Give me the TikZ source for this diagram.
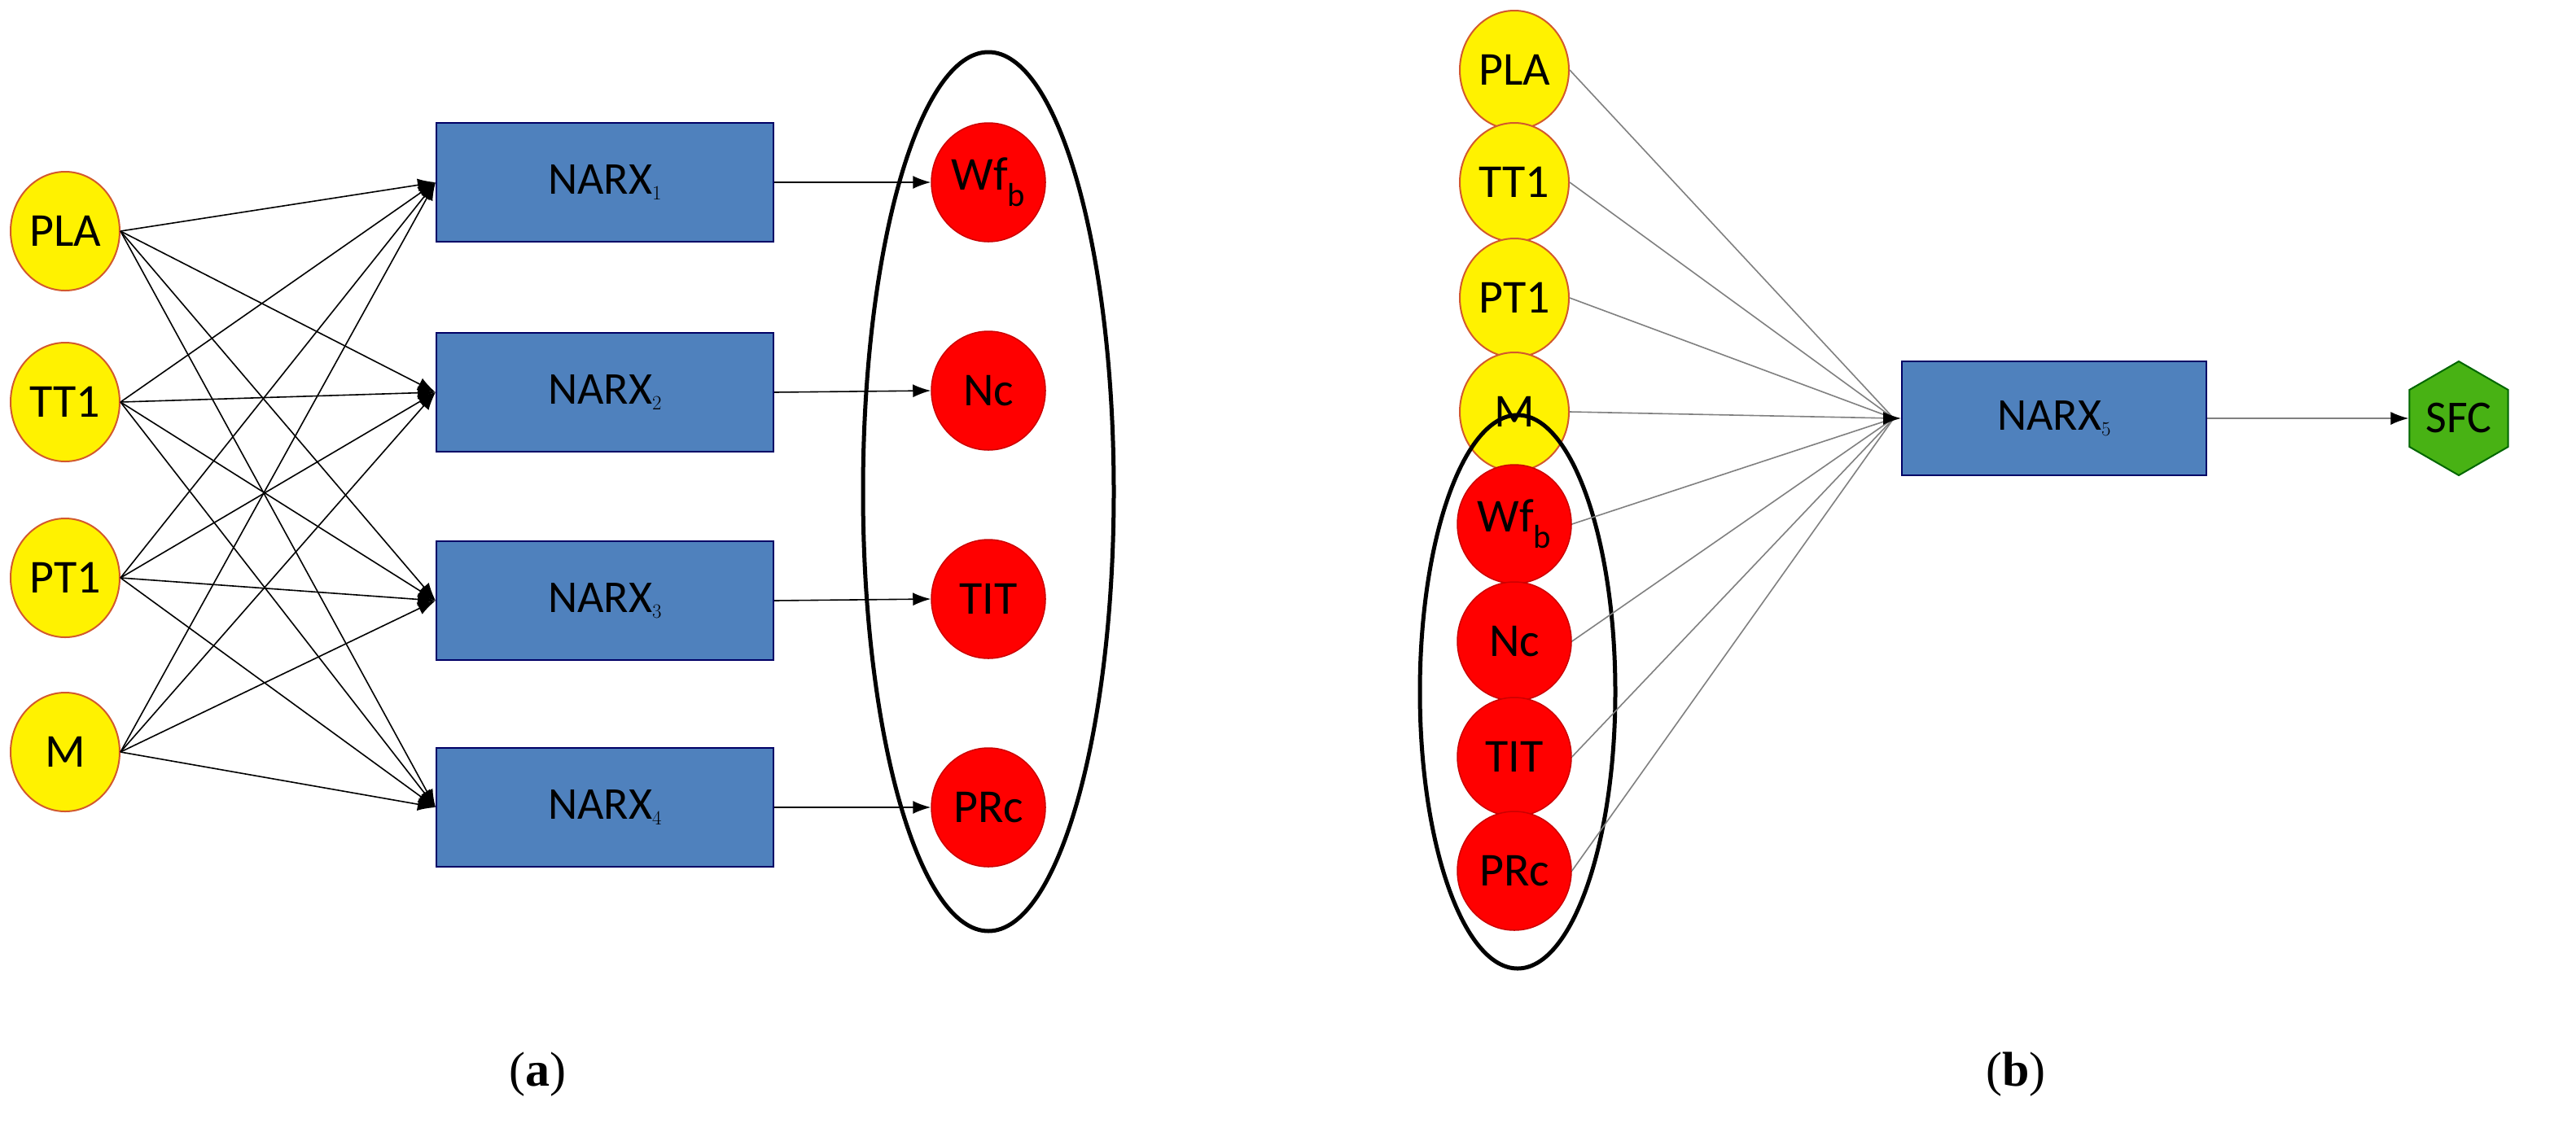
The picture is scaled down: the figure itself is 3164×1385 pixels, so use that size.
\documentclass[tikz,border=0pt]{standalone}
\usepackage{fontspec}
\setmainfont{Carlito}
\newfontfamily\capfont{Liberation Serif}
\usetikzlibrary{shapes.geometric,arrows.meta}
\begin{document}
\begin{tikzpicture}[x=1pt,y=-1pt,
 inp/.style={ellipse,draw=brown!70!red,line width=2pt,fill=yellow,minimum width=134pt,minimum height=146pt,inner sep=0pt,font=\fontsize{58}{60}\selectfont},
 outp/.style={ellipse,draw=red!80!black,line width=1.5pt,fill=red,minimum width=140pt,minimum height=146pt,inner sep=0pt,font=\fontsize{58}{60}\selectfont},
 narx/.style={rectangle,draw=blue!40!black,line width=2pt,fill={rgb,255:red,79;green,129;blue,189},minimum width=414pt,minimum height=146pt,font=\fontsize{56}{60}\selectfont},
 ln/.style={line width=1.6pt,-{Latex[length=22pt,width=16pt]}},
 gl/.style={line width=1.6pt,gray}]
\useasboundingbox (0,0) rectangle (3164,1385);
% left panel
\foreach \n/\t/\y in {a1/PLA/284,a2/TT1/494,a3/PT1/710,a4/M/924}
  \node[inp] (\n) at (80,\y) {\t};
\foreach \i/\y in {1/224,2/482,3/738,4/992}
  \node[narx] (n\i) at (743,\y) {NARX$_{\i}$};
\node[outp] (o1) at (1214,224) {Wf$_\mathrm{b}$};
\node[outp] (o2) at (1214,480) {Nc};
\node[outp] (o3) at (1214,736) {TIT};
\node[outp] (o4) at (1214,992) {PRc};
\node[draw,ellipse,line width=5pt,minimum width=308pt,minimum height=1080pt] (e1) at (1214,604) {};
\foreach \a in {a1,a2,a3,a4}
  \foreach \i in {1,...,4}
    \draw[ln] (\a.east) -- (n\i.west);
\foreach \i in {1,...,4}
  \draw[ln] (n\i.east) -- (o\i.west);
% right panel
\foreach \n/\t/\y in {b1/PLA/86,b2/TT1/224,b3/PT1/366,b4/M/506}
  \node[inp] (\n) at (1860,\y) {\t};
\node[outp] (c1) at (1860,644) {Wf$_\mathrm{b}$};
\node[outp] (c2) at (1860,788) {Nc};
\node[outp] (c3) at (1860,930) {TIT};
\node[outp] (c4) at (1860,1070) {PRc};
\node[draw,ellipse,line width=5pt,minimum width=240pt,minimum height=680pt] (e2) at (1864,850) {};
\node[narx,minimum width=374pt,minimum height=140pt] (n5) at (2523,514) {NARX$_5$};
\node[regular polygon,regular polygon sides=6,shape border rotate=90,draw=green!40!black,line width=2pt,fill={rgb,255:red,72;green,178;blue,20},minimum width=0pt,minimum size=0pt,inner sep=0pt,font=\fontsize{56}{60}\selectfont,
  minimum height=140pt,text width=0pt] (sfc) at (3020,514) {};
\node[font=\fontsize{56}{60}\selectfont] at (3020,514) {SFC};
\coordinate (j) at (2326,514);
\foreach \a in {b1,b2,b3,b4,c1,c2,c3,c4}
  \draw[gl] (\a.east) -- (j);
\draw[ln] (j) -- (n5.west);
\draw[line width=1.6pt,gray,-{Latex[length=22pt,width=16pt,color=black]}] (n5.east) -- (sfc.west);
% captions
\node[font=\capfont\fontsize{60}{64}\selectfont] at (660,1320) {(\textbf{a})};
\node[font=\capfont\fontsize{60}{64}\selectfont] at (2476,1320) {(\textbf{b})};
\end{tikzpicture}
\end{document}
